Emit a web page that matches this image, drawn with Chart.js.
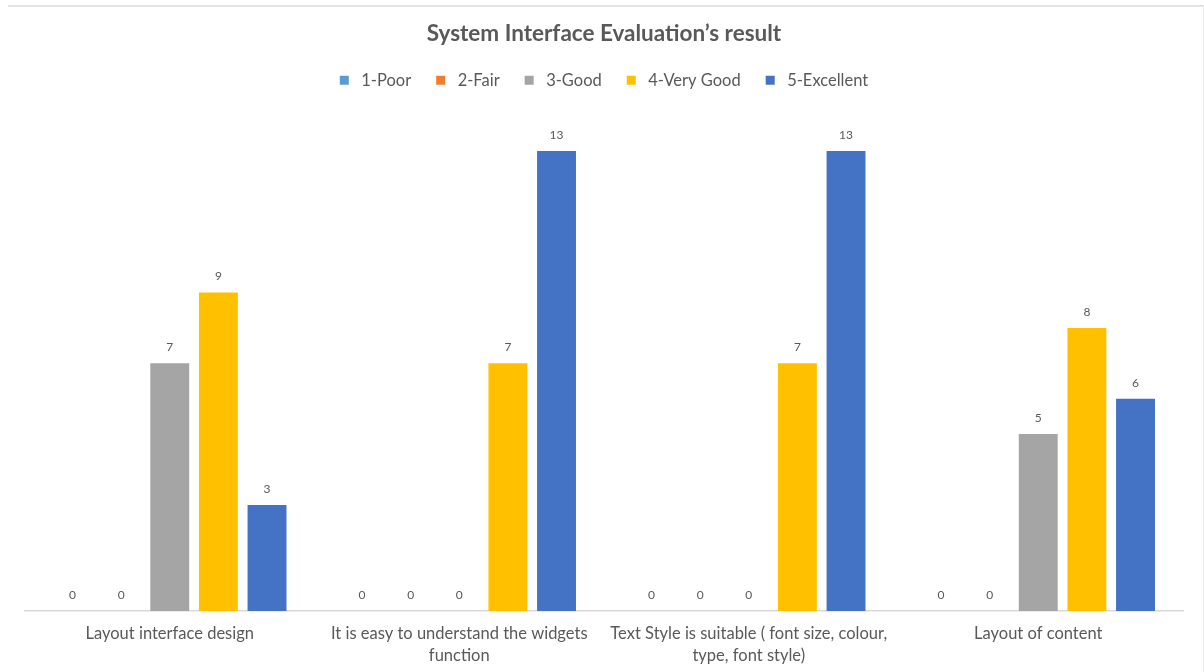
<!DOCTYPE html>
<html>
<head>
<meta charset="utf-8">
<script src="https://cdn.jsdelivr.net/npm/chart.js@4"></script>
<style>
    html, body { margin: 0; padding: 0; background: #fff; }
    #wrap { position: relative; width: 1204px; height: 672px; overflow: hidden; }
    #frame { position: absolute; left: 8px; top: 5px; width: 1196px; height: 800px;
             border-top: 2px solid #e3e3e3; border-right: 1px solid #ececec; box-sizing: border-box; }
    #chart { position: absolute; left: 0; top: 0; }
</style>
</head>
<body>
<div id="wrap">
    <div id="frame"></div>
    <canvas id="chart" width="1204" height="672"></canvas>
</div>
<script>
(() => {
    // 数据
    const CATEGORIES = [
        'Layout interface design',
        ['It is easy to understand the widgets', 'function'],
        ['Text Style is suitable ( font size, colour,', 'type, font style)'],
        'Layout of content'
    ];
    const SERIES_NAMES = ['1-Poor', '2-Fair', '3-Good', '4-Very Good', '5-Excellent'];
    const POOR = [0, 0, 0, 0];
    const FAIR = [0, 0, 0, 0];
    const GOOD = [7, 0, 0, 5];
    const VERY_GOOD = [9, 7, 7, 8];
    const EXCELLENT = [3, 13, 13, 6];
    const COLORS = ['#5B9BD5', '#ED7D31', '#A5A5A5', '#FFC000', '#4472C4'];

    const TEXT = '#595959';
    const FONT = 'Lato, "Open Sans", sans-serif';
    const LEGEND_EXTRA = 17; // 图例下方留白

    // 数值标签
    const valueLabels = {
        id: 'valueLabels',
        afterDatasetsDraw(chart) {
            const ctx = chart.ctx;
            ctx.save();
            ctx.font = '12px ' + FONT;
            ctx.fillStyle = TEXT;
            ctx.textAlign = 'center';
            ctx.textBaseline = 'bottom';
            chart.data.datasets.forEach((ds, i) => {
                chart.getDatasetMeta(i).data.forEach((bar, j) => {
                    ctx.fillText(ds.data[j], bar.x, bar.y - 10);
                });
            });
            ctx.restore();
        }
    };

    // 图例下方加高
    const legendSpacing = {
        id: 'legendSpacing',
        beforeInit(chart) {
            const origFit = chart.legend.fit;
            chart.legend.fit = function () {
                origFit.call(this);
                this.height += LEGEND_EXTRA;
            };
        }
    };

    const values = [POOR, FAIR, GOOD, VERY_GOOD, EXCELLENT];
    const defaultLabels = Chart.defaults.plugins.legend.labels.generateLabels;

    new Chart(document.getElementById('chart'), {
        type: 'bar',
        data: {
            labels: CATEGORIES,
            datasets: SERIES_NAMES.map((name, i) => ({
                label: name,
                data: values[i],
                backgroundColor: COLORS[i],
                categoryPercentage: 0.84,
                barPercentage: 0.8
            }))
        },
        options: {
            responsive: false,
            animation: false,
            layout: { padding: { left: 25, right: 21, top: 6, bottom: -6 } },
            plugins: {
                title: {
                    display: true,
                    text: 'System Interface Evaluation\u2019s result',
                    color: TEXT,
                    font: { family: FONT, size: 22.5, weight: 'bold' },
                    padding: { top: 14, bottom: 0 }
                },
                legend: {
                    labels: {
                        color: TEXT,
                        font: { family: FONT, size: 16.5 },
                        boxWidth: 9,
                        boxHeight: 9,
                        padding: 25,
                        generateLabels(chart) {
                            return defaultLabels(chart).map(item => ({ ...item, text: ' ' + item.text }));
                        }
                    }
                },
                tooltip: { enabled: false }
            },
            scales: {
                x: {
                    grid: { display: false, drawTicks: false },
                    border: { color: '#d9d9d9', width: 1.5 },
                    ticks: {
                        color: TEXT,
                        font: { family: FONT, size: 16.5, lineHeight: 1.3 },
                        maxRotation: 0,
                        autoSkip: false,
                        padding: 12
                    }
                },
                y: {
                    display: false,
                    min: 0,
                    max: 14
                }
            }
        },
        plugins: [valueLabels, legendSpacing]
    });
})();
</script>
</body>
</html>
